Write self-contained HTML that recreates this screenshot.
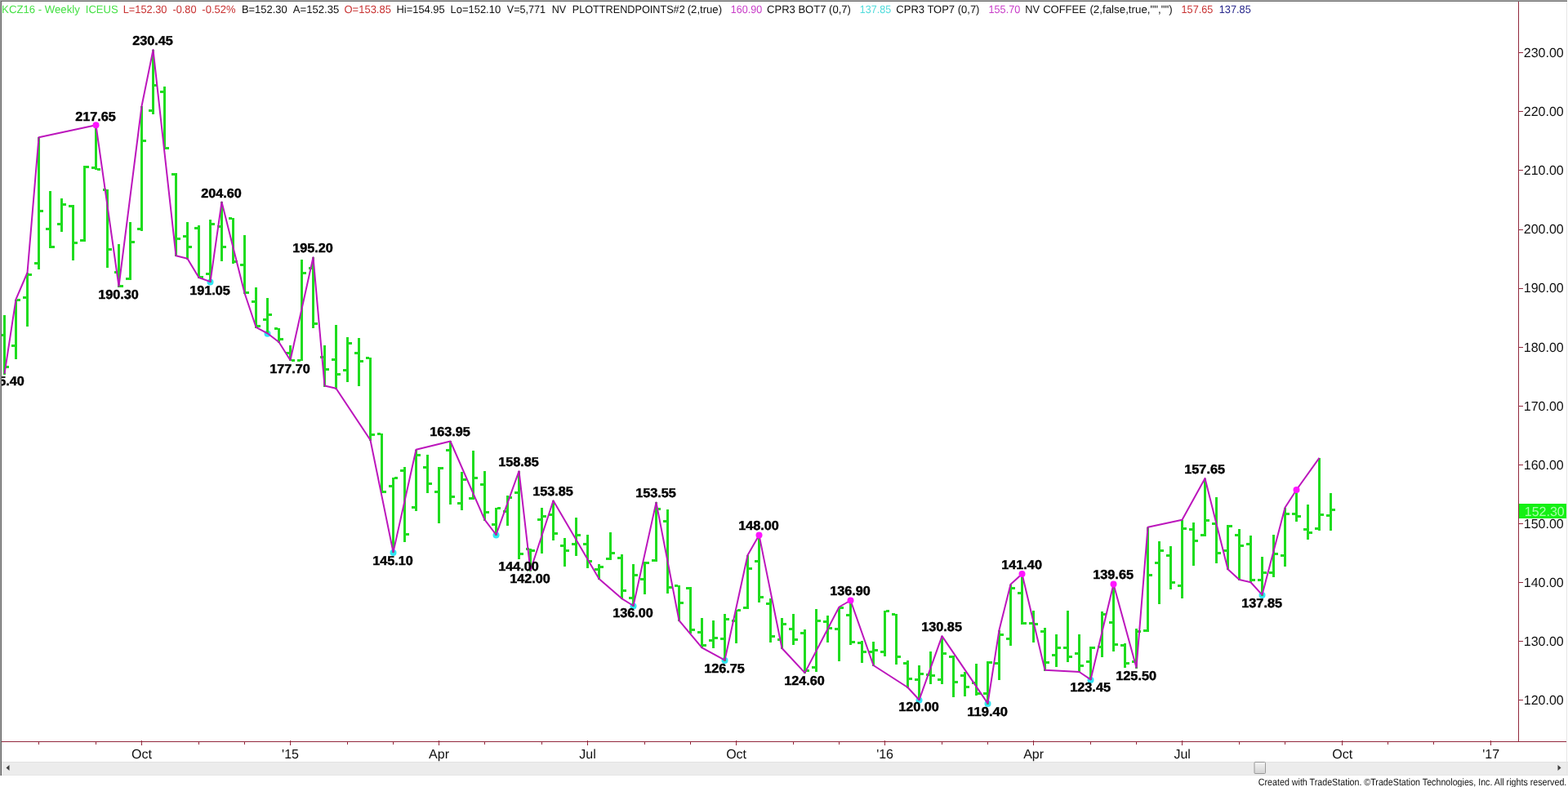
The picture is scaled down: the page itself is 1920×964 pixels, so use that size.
<!DOCTYPE html>
<html lang="en"><head><meta charset="utf-8"><title>KCZ16 - Weekly ICEUS</title>
<style>html,body{margin:0;padding:0;background:#fff;overflow:hidden}body{width:1920px;height:964px;position:relative}</style></head>
<body>
<svg width="1920" height="964" viewBox="0 0 1920 964" style="position:absolute;left:0;top:0;display:block" text-rendering="geometricPrecision" font-family='"Liberation Sans", sans-serif'>
<rect x="0" y="0" width="1920" height="964" fill="#ffffff"/>
<rect x="2" y="933" width="1918" height="17" fill="#ececec"/>
<path d="M7.5 940.5 L11.5 937 L11.5 944 Z" fill="#404040"/>
<path d="M1911.5 940.5 L1907.5 937 L1907.5 944 Z" fill="#404040"/>
<defs><linearGradient id="tg" x1="0" y1="0" x2="0" y2="1"><stop offset="0" stop-color="#f4f4f4"/><stop offset="1" stop-color="#d4d4d4"/></linearGradient></defs>
<rect x="2" y="933" width="1918" height="1" fill="#e2e2e2"/>
<rect x="2" y="949" width="1918" height="1" fill="#e6e6e6"/>
<rect x="1536" y="933.5" width="13.5" height="14" rx="1" fill="url(#tg)" stroke="#909090" stroke-width="0.9"/>
<g fill="#92283c" shape-rendering="crispEdges">
<rect x="1859" y="2" width="1" height="907"/>
<rect x="2" y="908" width="1916" height="1"/>
<rect x="1859" y="857" width="6" height="1"/>
<rect x="1859" y="785" width="6" height="1"/>
<rect x="1859" y="713" width="6" height="1"/>
<rect x="1859" y="641" width="6" height="1"/>
<rect x="1859" y="569" width="6" height="1"/>
<rect x="1859" y="497" width="6" height="1"/>
<rect x="1859" y="425" width="6" height="1"/>
<rect x="1859" y="353" width="6" height="1"/>
<rect x="1859" y="281" width="6" height="1"/>
<rect x="1859" y="208" width="6" height="1"/>
<rect x="1859" y="136" width="6" height="1"/>
<rect x="1859" y="64" width="6" height="1"/>
<rect x="47" y="908" width="1" height="4"/>
<rect x="117" y="908" width="1" height="4"/>
<rect x="173" y="907" width="1" height="6"/>
<rect x="243" y="908" width="1" height="4"/>
<rect x="299" y="908" width="1" height="4"/>
<rect x="355" y="907" width="1" height="6"/>
<rect x="425" y="908" width="1" height="4"/>
<rect x="481" y="908" width="1" height="4"/>
<rect x="537" y="907" width="1" height="6"/>
<rect x="593" y="908" width="1" height="4"/>
<rect x="663" y="908" width="1" height="4"/>
<rect x="719" y="907" width="1" height="6"/>
<rect x="789" y="908" width="1" height="4"/>
<rect x="845" y="908" width="1" height="4"/>
<rect x="901" y="907" width="1" height="6"/>
<rect x="971" y="908" width="1" height="4"/>
<rect x="1027" y="908" width="1" height="4"/>
<rect x="1083" y="907" width="1" height="6"/>
<rect x="1153" y="908" width="1" height="4"/>
<rect x="1209" y="908" width="1" height="4"/>
<rect x="1265" y="907" width="1" height="6"/>
<rect x="1335" y="908" width="1" height="4"/>
<rect x="1391" y="908" width="1" height="4"/>
<rect x="1447" y="907" width="1" height="6"/>
<rect x="1517" y="908" width="1" height="4"/>
<rect x="1573" y="908" width="1" height="4"/>
<rect x="1643" y="907" width="1" height="6"/>
<rect x="1699" y="908" width="1" height="4"/>
<rect x="1755" y="908" width="1" height="4"/>
<rect x="1825" y="907" width="1" height="6"/>
</g>
<g font-size="16" fill="#101010" transform="scale(1.0001)">
<text x="1914.5" y="863.0" text-anchor="end">120.00</text>
<text x="1914.5" y="790.9" text-anchor="end">130.00</text>
<text x="1914.5" y="718.8" text-anchor="end">140.00</text>
<text x="1914.5" y="646.7" text-anchor="end">150.00</text>
<text x="1914.5" y="574.6" text-anchor="end">160.00</text>
<text x="1914.5" y="502.5" text-anchor="end">170.00</text>
<text x="1914.5" y="430.5" text-anchor="end">180.00</text>
<text x="1914.5" y="358.4" text-anchor="end">190.00</text>
<text x="1914.5" y="286.3" text-anchor="end">200.00</text>
<text x="1914.5" y="214.2" text-anchor="end">210.00</text>
<text x="1914.5" y="142.1" text-anchor="end">220.00</text>
<text x="1914.5" y="70.0" text-anchor="end">230.00</text>
<text x="173.5" y="929" text-anchor="middle">Oct</text>
<text x="355.5" y="929" text-anchor="middle">'15</text>
<text x="537.5" y="929" text-anchor="middle">Apr</text>
<text x="719.5" y="929" text-anchor="middle">Jul</text>
<text x="901.5" y="929" text-anchor="middle">Oct</text>
<text x="1083.5" y="929" text-anchor="middle">'16</text>
<text x="1265.5" y="929" text-anchor="middle">Apr</text>
<text x="1447.5" y="929" text-anchor="middle">Jul</text>
<text x="1643.5" y="929" text-anchor="middle">Oct</text>
<text x="1825.5" y="929" text-anchor="middle">'17</text>
</g>
<rect x="1860" y="617" width="58" height="18" fill="#14f014"/>
<text x="1915.5" y="632" text-anchor="end" font-size="16" fill="#a8ffa8" transform="scale(1.0001)">152.30</text>
<circle cx="257.5" cy="345.6" r="4" fill="#30e4f4"/>
<circle cx="327.5" cy="408.8" r="4" fill="#30e4f4"/>
<circle cx="481.5" cy="676.9" r="4" fill="#30e4f4"/>
<circle cx="607.5" cy="655.5" r="4" fill="#30e4f4"/>
<circle cx="775.5" cy="742.5" r="4" fill="#30e4f4"/>
<circle cx="887.5" cy="809.1" r="4" fill="#30e4f4"/>
<circle cx="1125.5" cy="857.8" r="4" fill="#30e4f4"/>
<circle cx="1209.5" cy="862.1" r="4" fill="#30e4f4"/>
<circle cx="1335.5" cy="832.9" r="4" fill="#30e4f4"/>
<circle cx="1545.5" cy="729.1" r="4" fill="#30e4f4"/>
<g fill="#1fdc1f" shape-rendering="crispEdges">
<rect x="4" y="386" width="3" height="73"/>
<rect x="0" y="409" width="4" height="3"/>
<rect x="7" y="448" width="4" height="3"/>
<rect x="18" y="367" width="3" height="73"/>
<rect x="14" y="422" width="4" height="3"/>
<rect x="21" y="366" width="4" height="3"/>
<rect x="32" y="334" width="3" height="66"/>
<rect x="28" y="363" width="4" height="3"/>
<rect x="35" y="335" width="4" height="3"/>
<rect x="46" y="168" width="3" height="162"/>
<rect x="42" y="321" width="4" height="3"/>
<rect x="49" y="257" width="4" height="3"/>
<rect x="60" y="234" width="3" height="70"/>
<rect x="56" y="279" width="4" height="3"/>
<rect x="63" y="301" width="4" height="3"/>
<rect x="74" y="243" width="3" height="41"/>
<rect x="70" y="273" width="4" height="3"/>
<rect x="77" y="249" width="4" height="3"/>
<rect x="88" y="251" width="3" height="68"/>
<rect x="84" y="251" width="4" height="3"/>
<rect x="91" y="296" width="4" height="3"/>
<rect x="102" y="203" width="3" height="93"/>
<rect x="98" y="293" width="4" height="3"/>
<rect x="105" y="203" width="4" height="3"/>
<rect x="116" y="153" width="3" height="55"/>
<rect x="112" y="204" width="4" height="3"/>
<rect x="119" y="206" width="4" height="3"/>
<rect x="130" y="232" width="3" height="96"/>
<rect x="126" y="231" width="4" height="3"/>
<rect x="133" y="304" width="4" height="3"/>
<rect x="144" y="299" width="3" height="53"/>
<rect x="140" y="332" width="4" height="3"/>
<rect x="147" y="349" width="4" height="3"/>
<rect x="158" y="272" width="3" height="71"/>
<rect x="154" y="340" width="4" height="3"/>
<rect x="161" y="295" width="4" height="3"/>
<rect x="172" y="130" width="3" height="153"/>
<rect x="168" y="279" width="4" height="3"/>
<rect x="175" y="171" width="4" height="3"/>
<rect x="186" y="61" width="3" height="79"/>
<rect x="182" y="134" width="4" height="3"/>
<rect x="189" y="103" width="4" height="3"/>
<rect x="200" y="106" width="3" height="77"/>
<rect x="196" y="111" width="4" height="3"/>
<rect x="203" y="180" width="4" height="3"/>
<rect x="214" y="212" width="3" height="102"/>
<rect x="210" y="212" width="4" height="3"/>
<rect x="217" y="291" width="4" height="3"/>
<rect x="228" y="272" width="3" height="46"/>
<rect x="224" y="288" width="4" height="3"/>
<rect x="231" y="301" width="4" height="3"/>
<rect x="242" y="276" width="3" height="65"/>
<rect x="238" y="278" width="4" height="3"/>
<rect x="245" y="338" width="4" height="3"/>
<rect x="256" y="269" width="3" height="77"/>
<rect x="252" y="334" width="4" height="3"/>
<rect x="259" y="273" width="4" height="3"/>
<rect x="270" y="247" width="3" height="73"/>
<rect x="266" y="276" width="4" height="3"/>
<rect x="273" y="301" width="4" height="3"/>
<rect x="284" y="267" width="3" height="56"/>
<rect x="280" y="266" width="4" height="3"/>
<rect x="287" y="319" width="4" height="3"/>
<rect x="298" y="288" width="3" height="72"/>
<rect x="294" y="323" width="4" height="3"/>
<rect x="301" y="357" width="4" height="3"/>
<rect x="312" y="352" width="3" height="50"/>
<rect x="308" y="368" width="4" height="3"/>
<rect x="315" y="398" width="4" height="3"/>
<rect x="326" y="365" width="3" height="44"/>
<rect x="322" y="390" width="4" height="3"/>
<rect x="329" y="384" width="4" height="3"/>
<rect x="340" y="402" width="3" height="18"/>
<rect x="336" y="401" width="4" height="3"/>
<rect x="343" y="414" width="4" height="3"/>
<rect x="354" y="423" width="3" height="19"/>
<rect x="350" y="431" width="4" height="3"/>
<rect x="357" y="440" width="4" height="3"/>
<rect x="368" y="318" width="3" height="124"/>
<rect x="364" y="440" width="4" height="3"/>
<rect x="371" y="333" width="4" height="3"/>
<rect x="382" y="315" width="3" height="87"/>
<rect x="378" y="327" width="4" height="3"/>
<rect x="385" y="395" width="4" height="3"/>
<rect x="396" y="423" width="3" height="51"/>
<rect x="392" y="436" width="4" height="3"/>
<rect x="399" y="451" width="4" height="3"/>
<rect x="410" y="398" width="3" height="79"/>
<rect x="406" y="439" width="4" height="3"/>
<rect x="413" y="457" width="4" height="3"/>
<rect x="424" y="413" width="3" height="55"/>
<rect x="420" y="452" width="4" height="3"/>
<rect x="427" y="419" width="4" height="3"/>
<rect x="438" y="414" width="3" height="59"/>
<rect x="434" y="431" width="4" height="3"/>
<rect x="441" y="441" width="4" height="3"/>
<rect x="452" y="438" width="3" height="102"/>
<rect x="448" y="437" width="4" height="3"/>
<rect x="455" y="531" width="4" height="3"/>
<rect x="466" y="531" width="3" height="73"/>
<rect x="462" y="530" width="4" height="3"/>
<rect x="469" y="601" width="4" height="3"/>
<rect x="480" y="585" width="3" height="92"/>
<rect x="476" y="594" width="4" height="3"/>
<rect x="483" y="584" width="4" height="3"/>
<rect x="494" y="572" width="3" height="92"/>
<rect x="490" y="575" width="4" height="3"/>
<rect x="497" y="653" width="4" height="3"/>
<rect x="508" y="551" width="3" height="75"/>
<rect x="504" y="620" width="4" height="3"/>
<rect x="511" y="556" width="4" height="3"/>
<rect x="522" y="557" width="3" height="47"/>
<rect x="518" y="571" width="4" height="3"/>
<rect x="525" y="591" width="4" height="3"/>
<rect x="536" y="572" width="3" height="69"/>
<rect x="532" y="601" width="4" height="3"/>
<rect x="539" y="572" width="4" height="3"/>
<rect x="550" y="540" width="3" height="78"/>
<rect x="546" y="550" width="4" height="3"/>
<rect x="553" y="607" width="4" height="3"/>
<rect x="564" y="578" width="3" height="47"/>
<rect x="560" y="615" width="4" height="3"/>
<rect x="567" y="586" width="4" height="3"/>
<rect x="578" y="552" width="3" height="60"/>
<rect x="574" y="609" width="4" height="3"/>
<rect x="581" y="584" width="4" height="3"/>
<rect x="592" y="577" width="3" height="61"/>
<rect x="588" y="592" width="4" height="3"/>
<rect x="595" y="626" width="4" height="3"/>
<rect x="606" y="622" width="3" height="34"/>
<rect x="602" y="641" width="4" height="3"/>
<rect x="609" y="621" width="4" height="3"/>
<rect x="620" y="607" width="3" height="37"/>
<rect x="616" y="625" width="4" height="3"/>
<rect x="623" y="608" width="4" height="3"/>
<rect x="634" y="577" width="3" height="108"/>
<rect x="630" y="602" width="4" height="3"/>
<rect x="637" y="677" width="4" height="3"/>
<rect x="648" y="672" width="3" height="28"/>
<rect x="644" y="671" width="4" height="3"/>
<rect x="651" y="673" width="4" height="3"/>
<rect x="662" y="622" width="3" height="56"/>
<rect x="658" y="635" width="4" height="3"/>
<rect x="665" y="631" width="4" height="3"/>
<rect x="676" y="613" width="3" height="49"/>
<rect x="672" y="629" width="4" height="3"/>
<rect x="679" y="652" width="4" height="3"/>
<rect x="690" y="659" width="3" height="35"/>
<rect x="686" y="667" width="4" height="3"/>
<rect x="693" y="673" width="4" height="3"/>
<rect x="704" y="634" width="3" height="47"/>
<rect x="700" y="665" width="4" height="3"/>
<rect x="707" y="654" width="4" height="3"/>
<rect x="718" y="655" width="3" height="41"/>
<rect x="714" y="665" width="4" height="3"/>
<rect x="721" y="686" width="4" height="3"/>
<rect x="732" y="691" width="3" height="19"/>
<rect x="728" y="696" width="4" height="3"/>
<rect x="735" y="693" width="4" height="3"/>
<rect x="746" y="652" width="3" height="34"/>
<rect x="742" y="683" width="4" height="3"/>
<rect x="749" y="676" width="4" height="3"/>
<rect x="760" y="679" width="3" height="55"/>
<rect x="756" y="682" width="4" height="3"/>
<rect x="763" y="722" width="4" height="3"/>
<rect x="774" y="691" width="3" height="52"/>
<rect x="770" y="731" width="4" height="3"/>
<rect x="777" y="703" width="4" height="3"/>
<rect x="788" y="688" width="3" height="40"/>
<rect x="784" y="708" width="4" height="3"/>
<rect x="791" y="688" width="4" height="3"/>
<rect x="802" y="615" width="3" height="73"/>
<rect x="798" y="685" width="4" height="3"/>
<rect x="805" y="622" width="4" height="3"/>
<rect x="816" y="624" width="3" height="103"/>
<rect x="812" y="637" width="4" height="3"/>
<rect x="819" y="718" width="4" height="3"/>
<rect x="830" y="717" width="3" height="44"/>
<rect x="826" y="716" width="4" height="3"/>
<rect x="833" y="737" width="4" height="3"/>
<rect x="844" y="719" width="3" height="57"/>
<rect x="840" y="719" width="4" height="3"/>
<rect x="847" y="770" width="4" height="3"/>
<rect x="858" y="757" width="3" height="37"/>
<rect x="854" y="773" width="4" height="3"/>
<rect x="861" y="789" width="4" height="3"/>
<rect x="872" y="760" width="3" height="34"/>
<rect x="868" y="783" width="4" height="3"/>
<rect x="875" y="780" width="4" height="3"/>
<rect x="886" y="752" width="3" height="58"/>
<rect x="882" y="781" width="4" height="3"/>
<rect x="889" y="757" width="4" height="3"/>
<rect x="900" y="747" width="3" height="41"/>
<rect x="896" y="759" width="4" height="3"/>
<rect x="903" y="746" width="4" height="3"/>
<rect x="914" y="680" width="3" height="66"/>
<rect x="910" y="743" width="4" height="3"/>
<rect x="917" y="695" width="4" height="3"/>
<rect x="928" y="655" width="3" height="83"/>
<rect x="924" y="686" width="4" height="3"/>
<rect x="931" y="730" width="4" height="3"/>
<rect x="942" y="733" width="3" height="54"/>
<rect x="938" y="738" width="4" height="3"/>
<rect x="945" y="778" width="4" height="3"/>
<rect x="956" y="757" width="3" height="38"/>
<rect x="952" y="782" width="4" height="3"/>
<rect x="959" y="763" width="4" height="3"/>
<rect x="970" y="752" width="3" height="38"/>
<rect x="966" y="769" width="4" height="3"/>
<rect x="973" y="782" width="4" height="3"/>
<rect x="984" y="771" width="3" height="54"/>
<rect x="980" y="774" width="4" height="3"/>
<rect x="987" y="820" width="4" height="3"/>
<rect x="998" y="746" width="3" height="77"/>
<rect x="994" y="816" width="4" height="3"/>
<rect x="1001" y="759" width="4" height="3"/>
<rect x="1012" y="754" width="3" height="33"/>
<rect x="1008" y="760" width="4" height="3"/>
<rect x="1015" y="768" width="4" height="3"/>
<rect x="1026" y="744" width="3" height="66"/>
<rect x="1022" y="769" width="4" height="3"/>
<rect x="1029" y="743" width="4" height="3"/>
<rect x="1040" y="735" width="3" height="55"/>
<rect x="1036" y="752" width="4" height="3"/>
<rect x="1043" y="785" width="4" height="3"/>
<rect x="1054" y="785" width="3" height="27"/>
<rect x="1050" y="786" width="4" height="3"/>
<rect x="1057" y="797" width="4" height="3"/>
<rect x="1068" y="786" width="3" height="30"/>
<rect x="1064" y="797" width="4" height="3"/>
<rect x="1071" y="795" width="4" height="3"/>
<rect x="1082" y="748" width="3" height="56"/>
<rect x="1078" y="797" width="4" height="3"/>
<rect x="1085" y="747" width="4" height="3"/>
<rect x="1096" y="752" width="3" height="62"/>
<rect x="1092" y="751" width="4" height="3"/>
<rect x="1099" y="803" width="4" height="3"/>
<rect x="1110" y="809" width="3" height="34"/>
<rect x="1106" y="811" width="4" height="3"/>
<rect x="1113" y="830" width="4" height="3"/>
<rect x="1124" y="815" width="3" height="43"/>
<rect x="1120" y="831" width="4" height="3"/>
<rect x="1127" y="824" width="4" height="3"/>
<rect x="1138" y="798" width="3" height="40"/>
<rect x="1134" y="825" width="4" height="3"/>
<rect x="1141" y="826" width="4" height="3"/>
<rect x="1152" y="779" width="3" height="59"/>
<rect x="1148" y="831" width="4" height="3"/>
<rect x="1155" y="799" width="4" height="3"/>
<rect x="1166" y="803" width="3" height="51"/>
<rect x="1162" y="803" width="4" height="3"/>
<rect x="1169" y="834" width="4" height="3"/>
<rect x="1180" y="823" width="3" height="30"/>
<rect x="1176" y="826" width="4" height="3"/>
<rect x="1183" y="840" width="4" height="3"/>
<rect x="1194" y="813" width="3" height="39"/>
<rect x="1190" y="835" width="4" height="3"/>
<rect x="1197" y="848" width="4" height="3"/>
<rect x="1208" y="810" width="3" height="53"/>
<rect x="1204" y="848" width="4" height="3"/>
<rect x="1211" y="810" width="4" height="3"/>
<rect x="1222" y="772" width="3" height="61"/>
<rect x="1218" y="811" width="4" height="3"/>
<rect x="1225" y="776" width="4" height="3"/>
<rect x="1236" y="716" width="3" height="75"/>
<rect x="1232" y="781" width="4" height="3"/>
<rect x="1239" y="719" width="4" height="3"/>
<rect x="1250" y="703" width="3" height="62"/>
<rect x="1246" y="725" width="4" height="3"/>
<rect x="1253" y="762" width="4" height="3"/>
<rect x="1264" y="748" width="3" height="39"/>
<rect x="1260" y="762" width="4" height="3"/>
<rect x="1267" y="763" width="4" height="3"/>
<rect x="1278" y="769" width="3" height="53"/>
<rect x="1274" y="772" width="4" height="3"/>
<rect x="1281" y="810" width="4" height="3"/>
<rect x="1292" y="777" width="3" height="40"/>
<rect x="1288" y="801" width="4" height="3"/>
<rect x="1295" y="792" width="4" height="3"/>
<rect x="1306" y="748" width="3" height="63"/>
<rect x="1302" y="792" width="4" height="3"/>
<rect x="1309" y="803" width="4" height="3"/>
<rect x="1320" y="777" width="3" height="47"/>
<rect x="1316" y="799" width="4" height="3"/>
<rect x="1323" y="814" width="4" height="3"/>
<rect x="1334" y="792" width="3" height="41"/>
<rect x="1330" y="809" width="4" height="3"/>
<rect x="1337" y="792" width="4" height="3"/>
<rect x="1348" y="749" width="3" height="56"/>
<rect x="1344" y="791" width="4" height="3"/>
<rect x="1351" y="751" width="4" height="3"/>
<rect x="1362" y="716" width="3" height="82"/>
<rect x="1358" y="761" width="4" height="3"/>
<rect x="1365" y="788" width="4" height="3"/>
<rect x="1376" y="788" width="3" height="30"/>
<rect x="1372" y="789" width="4" height="3"/>
<rect x="1379" y="811" width="4" height="3"/>
<rect x="1390" y="770" width="3" height="49"/>
<rect x="1386" y="809" width="4" height="3"/>
<rect x="1393" y="772" width="4" height="3"/>
<rect x="1404" y="646" width="3" height="128"/>
<rect x="1400" y="771" width="4" height="3"/>
<rect x="1407" y="703" width="4" height="3"/>
<rect x="1418" y="663" width="3" height="77"/>
<rect x="1414" y="688" width="4" height="3"/>
<rect x="1421" y="673" width="4" height="3"/>
<rect x="1432" y="669" width="3" height="53"/>
<rect x="1428" y="679" width="4" height="3"/>
<rect x="1435" y="712" width="4" height="3"/>
<rect x="1446" y="637" width="3" height="96"/>
<rect x="1442" y="716" width="4" height="3"/>
<rect x="1449" y="646" width="4" height="3"/>
<rect x="1460" y="640" width="3" height="53"/>
<rect x="1456" y="647" width="4" height="3"/>
<rect x="1463" y="661" width="4" height="3"/>
<rect x="1474" y="586" width="3" height="71"/>
<rect x="1470" y="654" width="4" height="3"/>
<rect x="1477" y="636" width="4" height="3"/>
<rect x="1488" y="609" width="3" height="81"/>
<rect x="1484" y="640" width="4" height="3"/>
<rect x="1491" y="676" width="4" height="3"/>
<rect x="1502" y="643" width="3" height="55"/>
<rect x="1498" y="673" width="4" height="3"/>
<rect x="1505" y="643" width="4" height="3"/>
<rect x="1516" y="648" width="3" height="63"/>
<rect x="1512" y="654" width="4" height="3"/>
<rect x="1519" y="667" width="4" height="3"/>
<rect x="1530" y="656" width="3" height="58"/>
<rect x="1526" y="665" width="4" height="3"/>
<rect x="1533" y="709" width="4" height="3"/>
<rect x="1544" y="682" width="3" height="48"/>
<rect x="1540" y="709" width="4" height="3"/>
<rect x="1547" y="700" width="4" height="3"/>
<rect x="1558" y="655" width="3" height="52"/>
<rect x="1554" y="700" width="4" height="3"/>
<rect x="1561" y="677" width="4" height="3"/>
<rect x="1572" y="622" width="3" height="72"/>
<rect x="1568" y="679" width="4" height="3"/>
<rect x="1575" y="628" width="4" height="3"/>
<rect x="1586" y="600" width="3" height="39"/>
<rect x="1582" y="628" width="4" height="3"/>
<rect x="1589" y="631" width="4" height="3"/>
<rect x="1600" y="618" width="3" height="43"/>
<rect x="1596" y="647" width="4" height="3"/>
<rect x="1603" y="651" width="4" height="3"/>
<rect x="1614" y="561" width="3" height="89"/>
<rect x="1610" y="646" width="4" height="3"/>
<rect x="1617" y="629" width="4" height="3"/>
<rect x="1628" y="604" width="3" height="46"/>
<rect x="1624" y="630" width="4" height="3"/>
<rect x="1631" y="623" width="4" height="3"/>
</g>
<polyline points="5.5,457.9 19.5,366.7 33.5,334.0 47.5,168.3 117.5,153.3 145.5,350.5 173.5,130.0 187.5,61.1 215.5,313.3 229.5,316.7 243.5,340.0 257.5,345.1 271.5,247.4 299.5,359.0 313.5,400.8 327.5,408.3 341.5,419.0 355.5,441.3 383.5,315.2 397.5,472.5 411.5,475.8 453.5,539.0 481.5,676.4 509.5,550.8 551.5,540.5 593.5,636.7 607.5,655.0 635.5,577.2 649.5,698.7 677.5,613.3 733.5,709.0 761.5,733.3 775.5,742.0 803.5,615.4 831.5,760.0 859.5,793.3 887.5,808.6 915.5,680.0 929.5,655.4 957.5,794.0 985.5,824.1 1027.5,743.5 1041.5,735.5 1069.5,815.0 1111.5,842.0 1125.5,857.3 1153.5,779.1 1209.5,861.6 1223.5,771.7 1237.5,715.8 1251.5,703.0 1279.5,820.8 1321.5,823.0 1335.5,832.4 1363.5,715.6 1391.5,817.7 1405.5,645.8 1447.5,636.7 1475.5,585.9 1503.5,697.2 1517.5,710.0 1531.5,713.3 1545.5,728.6 1573.5,621.7 1587.5,600.0 1615.5,560.8" fill="none" stroke="#bc16bc" stroke-width="2" stroke-linejoin="round"/>
<circle cx="117.5" cy="153.3" r="4" fill="#ff14ff"/>
<circle cx="929.5" cy="655.4" r="4" fill="#ff14ff"/>
<circle cx="1041.5" cy="735.5" r="4" fill="#ff14ff"/>
<circle cx="1251.5" cy="703.0" r="4" fill="#ff14ff"/>
<circle cx="1363.5" cy="715.6" r="4" fill="#ff14ff"/>
<circle cx="1587.5" cy="600.0" r="4" fill="#ff14ff"/>
<g font-size="15.8" font-weight="bold" fill="#000" stroke="#000" stroke-width="0.45" stroke-linejoin="round" text-anchor="middle" transform="scale(1.0001)">
<text x="5.0" y="472.2" textLength="49.6" lengthAdjust="spacingAndGlyphs">175.40</text>
<text x="117.0" y="148.3" textLength="49.6" lengthAdjust="spacingAndGlyphs">217.65</text>
<text x="145.0" y="366.3" textLength="49.6" lengthAdjust="spacingAndGlyphs">190.30</text>
<text x="187.0" y="55.1" textLength="49.6" lengthAdjust="spacingAndGlyphs">230.45</text>
<text x="257.0" y="360.9" textLength="49.6" lengthAdjust="spacingAndGlyphs">191.05</text>
<text x="271.0" y="242.4" textLength="49.6" lengthAdjust="spacingAndGlyphs">204.60</text>
<text x="355.0" y="457.3" textLength="49.6" lengthAdjust="spacingAndGlyphs">177.70</text>
<text x="383.0" y="308.7" textLength="49.6" lengthAdjust="spacingAndGlyphs">195.20</text>
<text x="481.0" y="692.2" textLength="49.6" lengthAdjust="spacingAndGlyphs">145.10</text>
<text x="551.0" y="533.5" textLength="49.6" lengthAdjust="spacingAndGlyphs">163.95</text>
<text x="635.0" y="571.2" textLength="49.6" lengthAdjust="spacingAndGlyphs">158.85</text>
<text x="635.0" y="699.1" textLength="49.6" lengthAdjust="spacingAndGlyphs">144.00</text>
<text x="649.0" y="713.5" textLength="49.6" lengthAdjust="spacingAndGlyphs">142.00</text>
<text x="677.0" y="607.3" textLength="49.6" lengthAdjust="spacingAndGlyphs">153.85</text>
<text x="775.0" y="756.4" textLength="49.6" lengthAdjust="spacingAndGlyphs">136.00</text>
<text x="803.0" y="609.4" textLength="49.6" lengthAdjust="spacingAndGlyphs">153.55</text>
<text x="887.0" y="824.4" textLength="49.6" lengthAdjust="spacingAndGlyphs">126.75</text>
<text x="929.0" y="649.4" textLength="49.6" lengthAdjust="spacingAndGlyphs">148.00</text>
<text x="985.0" y="838.9" textLength="49.6" lengthAdjust="spacingAndGlyphs">124.60</text>
<text x="1041.0" y="728.5" textLength="49.6" lengthAdjust="spacingAndGlyphs">136.90</text>
<text x="1125.0" y="871.3" textLength="49.6" lengthAdjust="spacingAndGlyphs">120.00</text>
<text x="1153.0" y="773.1" textLength="49.6" lengthAdjust="spacingAndGlyphs">130.85</text>
<text x="1209.0" y="877.4" textLength="49.6" lengthAdjust="spacingAndGlyphs">119.40</text>
<text x="1251.0" y="697.0" textLength="49.6" lengthAdjust="spacingAndGlyphs">141.40</text>
<text x="1335.0" y="847.2" textLength="49.6" lengthAdjust="spacingAndGlyphs">123.45</text>
<text x="1363.0" y="708.6" textLength="49.6" lengthAdjust="spacingAndGlyphs">139.65</text>
<text x="1391.0" y="832.5" textLength="49.6" lengthAdjust="spacingAndGlyphs">125.50</text>
<text x="1475.0" y="579.9" textLength="49.6" lengthAdjust="spacingAndGlyphs">157.65</text>
<text x="1545.0" y="744.4" textLength="49.6" lengthAdjust="spacingAndGlyphs">137.85</text>
</g>
<g font-size="13.4">
<text x="2.12" y="16" fill="#46e046" textLength="95.61" lengthAdjust="spacingAndGlyphs">KCZ16 - Weekly</text>
<text x="104.83" y="16" fill="#46e046" textLength="39.84" lengthAdjust="spacingAndGlyphs">ICEUS</text>
<text x="150.75" y="16" fill="#c83232" textLength="53.68" lengthAdjust="spacingAndGlyphs">L=152.30</text>
<text x="211.55" y="16" fill="#c83232" textLength="28.95" lengthAdjust="spacingAndGlyphs">-0.80</text>
<text x="247.33" y="16" fill="#c83232" textLength="41.20" lengthAdjust="spacingAndGlyphs">-0.52%</text>
<text x="295.93" y="16" fill="#101010" textLength="55.76" lengthAdjust="spacingAndGlyphs">B=152.30</text>
<text x="358.75" y="16" fill="#101010" textLength="56.55" lengthAdjust="spacingAndGlyphs">A=152.35</text>
<text x="421.53" y="16" fill="#c83232" textLength="57.42" lengthAdjust="spacingAndGlyphs">O=153.85</text>
<text x="485.54" y="16" fill="#101010" textLength="59.07" lengthAdjust="spacingAndGlyphs">Hi=154.95</text>
<text x="551.53" y="16" fill="#101010" textLength="61.62" lengthAdjust="spacingAndGlyphs">Lo=152.10</text>
<text x="620.80" y="16" fill="#101010" textLength="47.15" lengthAdjust="spacingAndGlyphs">V=5,771</text>
<text x="675.76" y="16" fill="#101010" textLength="17.51" lengthAdjust="spacingAndGlyphs">NV</text>
<text x="700.75" y="16" fill="#101010" textLength="137.94" lengthAdjust="spacingAndGlyphs">PLOTTRENDPOINTS#2</text>
<text x="841.72" y="16" fill="#101010" textLength="42.33" lengthAdjust="spacingAndGlyphs">(2,true)</text>
<text x="894.86" y="16" fill="#c83cc8" textLength="38.34" lengthAdjust="spacingAndGlyphs">160.90</text>
<text x="939.03" y="16" fill="#101010" textLength="102.88" lengthAdjust="spacingAndGlyphs">CPR3 BOT7 (0,7)</text>
<text x="1052.82" y="16" fill="#50dcdc" textLength="38.29" lengthAdjust="spacingAndGlyphs">137.85</text>
<text x="1097.33" y="16" fill="#101010" textLength="102.12" lengthAdjust="spacingAndGlyphs">CPR3 TOP7 (0,7)</text>
<text x="1210.56" y="16" fill="#c83cc8" textLength="38.66" lengthAdjust="spacingAndGlyphs">155.70</text>
<text x="1255.29" y="16" fill="#101010" textLength="17.79" lengthAdjust="spacingAndGlyphs">NV</text>
<text x="1277.13" y="16" fill="#101010" textLength="52.78" lengthAdjust="spacingAndGlyphs">COFFEE</text>
<text x="1334.40" y="16" fill="#101010" textLength="101.22" lengthAdjust="spacingAndGlyphs">(2,false,true,&quot;&quot;,&quot;&quot;)</text>
<text x="1446.55" y="16" fill="#c83232" textLength="38.76" lengthAdjust="spacingAndGlyphs">157.65</text>
<text x="1492.80" y="16" fill="#28288c" textLength="38.92" lengthAdjust="spacingAndGlyphs">137.85</text>
</g>
<text x="1918.3" y="962" text-anchor="end" font-size="12" fill="#101010" textLength="377.5" lengthAdjust="spacingAndGlyphs">Created with TradeStation. ©TradeStation Technologies, Inc. All rights reserved.</text>
<rect x="0" y="0" width="1919" height="1" fill="#a8a8a8"/>
<rect x="0" y="1" width="1919" height="1" fill="#6e6e6e"/>
<rect x="0" y="0" width="1" height="950" fill="#a0a0a0"/>
<rect x="1" y="1" width="1" height="949" fill="#606060"/>
<rect x="1918" y="2" width="1" height="948" fill="#e6e6e6"/>
</svg>
</body></html>
